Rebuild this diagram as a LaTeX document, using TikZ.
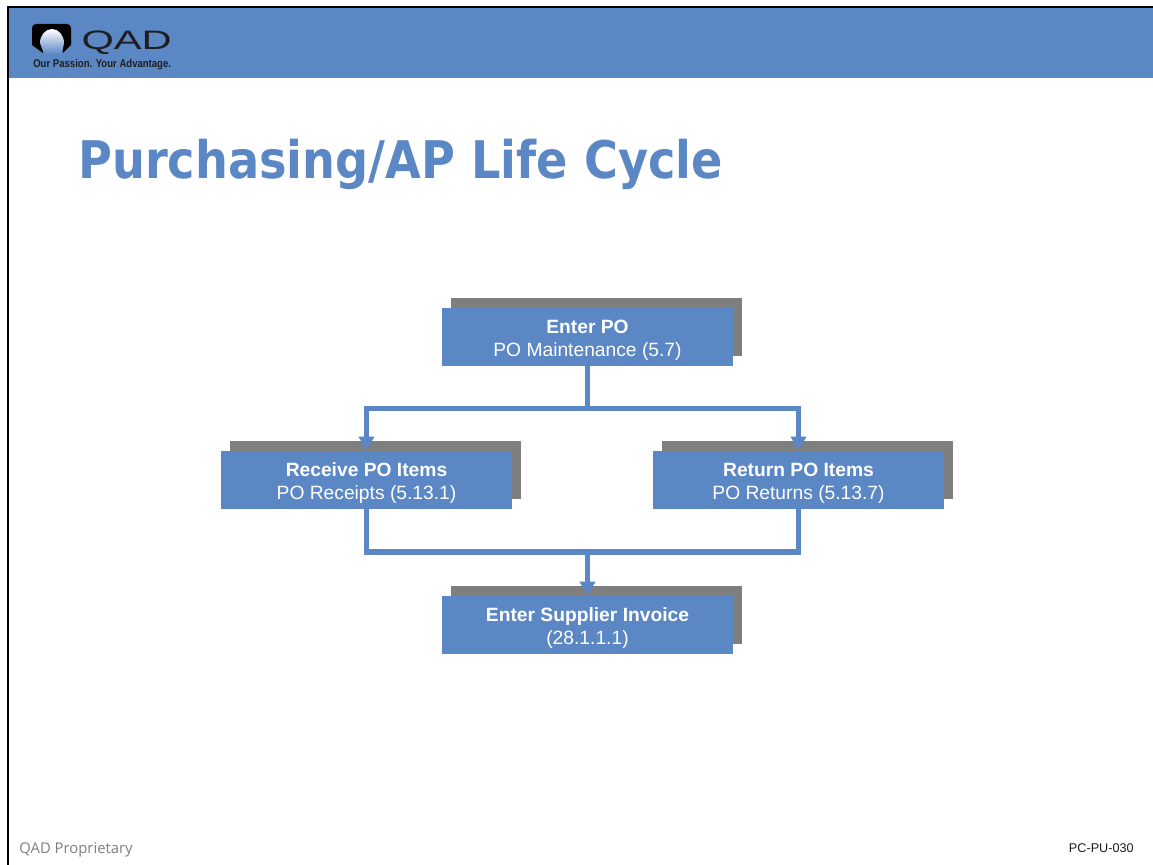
\documentclass[tikz,border=0pt]{standalone}
\usepackage{fontspec}
\setmainfont{Liberation Sans}
\newfontfamily\titlefont{DejaVu Sans}
\newfontfamily\footerfont{Open Sans}
\usetikzlibrary{arrows.meta,shadows}
\definecolor{qadblue}{HTML}{5B87C5}
\definecolor{qadgray}{HTML}{7F7F7F}
\definecolor{qadtext}{HTML}{1E1E1E}
\tikzset{link/.style={line width=0.11cm,draw=qadblue,-{Triangle[width=0.3cm,length=0.28cm]}}}
\tikzset{plain/.style={line width=0.11cm,draw=qadblue}}

\begin{document}
\begin{tikzpicture}
        [
            x=0.02cm,y=-0.02cm,
            box/.style={rectangle,fill=qadblue,text=white,minimum width=5.82cm,minimum height=1.16cm,
                align=center,font=\fontsize{10.95}{13}\selectfont,inner sep=0pt,text height=0.86cm,
                general shadow={fill=qadgray,shadow xshift=0.185cm,shadow yshift=0.2cm}},
        ]
    \useasboundingbox (0,0) rectangle (1153,865);
    \fill[white] (0,0) rectangle (1153,865);

    % header and frame
    \fill[qadblue] (8,8) rectangle (1153,78);
    \draw[black,line width=0.04cm] (8,865) -- (8,7) -- (1153,7);

    % logo
    \fill[black,rounded corners=0.08cm] (32,24) rectangle (71,47);
    \fill[black] (32,40) -- (32,45) -- (43,53) -- (47,40) -- cycle;
    \fill[black] (71,40) -- (71,45) -- (63,53) -- (57,40) -- cycle;
    \shade[top color=white,bottom color=qadblue] (44,54) -- (40,43) arc (180:360:12 and 14) -- (62,54) -- cycle;
    \node[anchor=west,text=qadtext,inner sep=0pt,xscale=1.56,font=\fontsize{15.2}{15.2}\selectfont] (logoname) at (81,42.5) {QAD};
    \node[anchor=west,text=qadtext,inner sep=0pt,xscale=0.85,font=\bfseries\fontsize{6.4}{6.4}\selectfont] (tagline) at (33,64.5) {Our Passion. Your Advantage.};

    % title
    \node[anchor=base west,text=qadblue,inner sep=0pt,xscale=0.892,font=\titlefont\bfseries\fontsize{29.5}{29.5}\selectfont] (title) at (78,178) {Purchasing/AP Life Cycle};

    % boxes
    \node[box] (enterpo) at (587.5,337) {\textbf{Enter PO}\\PO Maintenance (5.7)};
    \node[box] (receive) at (366.5,480) {\textbf{Receive PO Items}\\PO Receipts (5.13.1)};
    \node[box] (return) at (798.5,480) {\textbf{Return PO Items}\\PO Returns (5.13.7)};
    \node[box] (invoice) at (587.5,625) {\textbf{Enter Supplier Invoice}\\(28.1.1.1)};

    % connectors
    \coordinate (split) at (587.5,408.5);
    \coordinate (merge) at (587.5,552);
    \draw[plain] (enterpo.south) -- (split);
    \draw[link] (split) -| (receive.north);
    \draw[link] (split) -| (return.north);
    \draw[plain] (receive.south) |- (merge);
    \draw[plain] (return.south) |- (merge);
    \draw[link] (merge) -- (invoice.north);

    % footer
    \node[anchor=west,text=qadgray,inner sep=0pt,font=\footerfont\fontsize{8.45}{8.45}\selectfont] (proprietary) at (19,850) {QAD Proprietary};
    \node[anchor=east,text=qadtext,inner sep=0pt,font=\fontsize{7.2}{7.2}\selectfont] (pagecode) at (1134,848) {PC-PU-030};
\end{tikzpicture}
\end{document}
